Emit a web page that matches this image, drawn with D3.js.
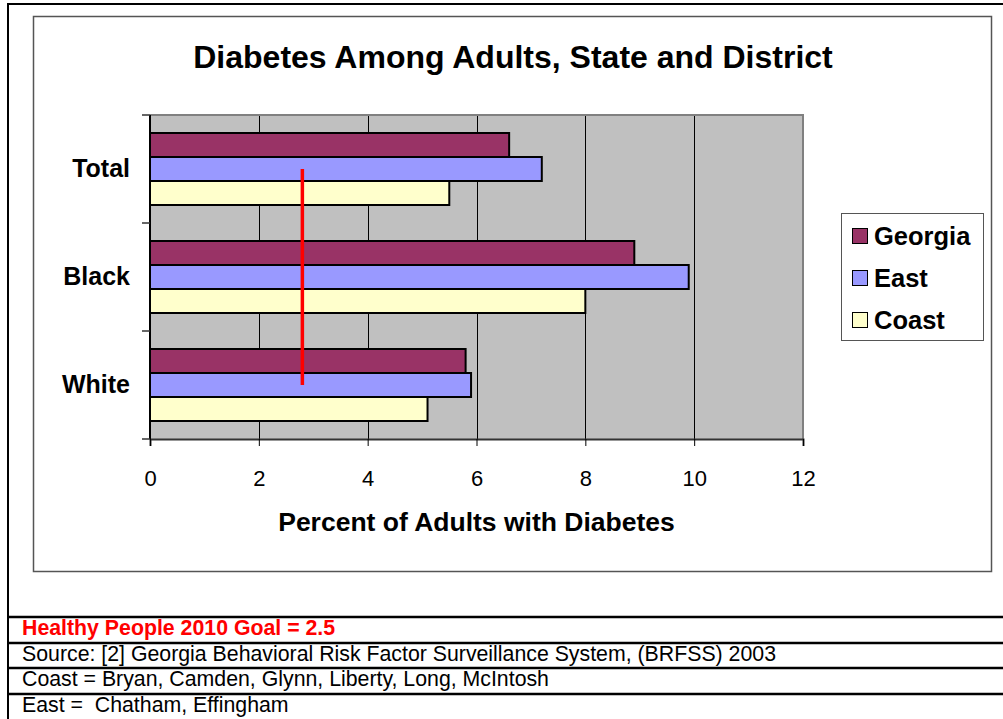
<!DOCTYPE html>
<html>
<head>
<meta charset="utf-8">
<script src="https://cdn.jsdelivr.net/npm/d3@7"></script>
<style>
  html, body { margin: 0; padding: 0; background: #fff; }
  svg { display: block; font-family: Arial, "Liberation Sans", sans-serif; }
</style>
</head>
<body>
<div id="chart"></div>
<script>
// chart data
const categories = ['Total', 'Black', 'White']
const seriesNames = ['Georgia', 'East', 'Coast']
const georgia = [6.6, 8.9, 5.8]
const east = [7.2, 9.9, 5.9]
const coast = [5.5, 8.0, 5.1]
const xTicks = [0, 2, 4, 6, 8, 10, 12]
const goalMark = 2.8
const footNotes = [
  'Healthy People 2010 Goal = 2.5',
  'Source: [2] Georgia Behavioral Risk Factor Surveillance System, (BRFSS) 2003',
  'Coast = Bryan, Camden, Glynn, Liberty, Long, McIntosh',
  'East =  Chatham, Effingham'
]

const colors = ['#993366', '#9999ff', '#ffffcc']
const seriesValues = [georgia, east, coast]

const W = 1003
const H = 719
const plot = { left: 150, right: 803, top: 115, bottom: 439 }

const svg = d3.select('#chart')
  .append('svg')
  .attr('width', W)
  .attr('height', H)

// outer frame
svg.append('rect')
  .attr('x', 8).attr('y', 4)
  .attr('width', W + 10).attr('height', H + 10)
  .attr('fill', 'none')
  .attr('stroke', '#000')
  .attr('stroke-width', 2)

// chart box
svg.append('rect')
  .attr('x', 33.5).attr('y', 16.5)
  .attr('width', 958).attr('height', 555)
  .attr('fill', 'none')
  .attr('stroke', '#555')
  .attr('stroke-width', 1.5)

const x = d3.scaleLinear().domain([0, 12]).range([plot.left, plot.right])
const y0 = d3.scaleBand()
  .domain(categories)
  .range([plot.top, plot.bottom])
  .paddingInner(1 / 3)
  .paddingOuter(1 / 6)
const y1 = d3.scaleBand()
  .domain(seriesNames)
  .range([0, y0.bandwidth()])

// plot area
svg.append('rect')
  .attr('x', plot.left).attr('y', plot.top)
  .attr('width', plot.right - plot.left)
  .attr('height', plot.bottom - plot.top)
  .attr('fill', '#c0c0c0')

// gridlines
svg.append('g')
  .selectAll('line')
  .data(xTicks.slice(1, -1))
  .join('line')
  .attr('x1', d => Math.round(x(d)) + 0.5)
  .attr('x2', d => Math.round(x(d)) + 0.5)
  .attr('y1', plot.top)
  .attr('y2', plot.bottom)
  .attr('stroke', '#000')
  .attr('stroke-width', 1)

// plot border (top / right)
svg.append('path')
  .attr('d', `M${plot.left},${plot.top} H${plot.right} V${plot.bottom}`)
  .attr('fill', 'none')
  .attr('stroke', '#808080')
  .attr('stroke-width', 2)

// bars
const rows = []
categories.forEach((c, i) => {
  seriesNames.forEach((s, j) => {
    rows.push({ cat: c, series: s, value: seriesValues[j][i], color: colors[j] })
  })
})

svg.append('g')
  .selectAll('rect')
  .data(rows)
  .join('rect')
  .attr('x', x(0))
  .attr('y', d => y0(d.cat) + y1(d.series))
  .attr('width', d => x(d.value) - x(0))
  .attr('height', y1.bandwidth())
  .attr('fill', d => d.color)
  .attr('stroke', '#000')
  .attr('stroke-width', 2)

// x axis
const xAxis = svg.append('g')
  .attr('transform', `translate(0,${plot.bottom})`)
  .call(d3.axisBottom(x).tickValues(xTicks).tickSize(7).tickPadding(24))
xAxis.select('.domain').attr('stroke', '#333').attr('stroke-width', 2)
xAxis.selectAll('.tick line').attr('stroke', '#000')
xAxis.selectAll('.tick text')
  .attr('font-size', 22)
  .attr('font-family', 'Arial, "Liberation Sans", sans-serif')
  .attr('fill', '#000')

// y axis
const yAxis = svg.append('g')
  .attr('transform', `translate(${plot.left},0)`)
  .call(d3.axisLeft(y0).tickSize(0).tickPadding(20))
yAxis.select('.domain').remove()
yAxis.selectAll('.tick text')
  .attr('font-size', 25)
  .attr('font-weight', 'bold')
  .attr('font-family', 'Arial, "Liberation Sans", sans-serif')
  .attr('fill', '#000')

// left axis line and category separators
svg.append('line')
  .attr('x1', plot.left).attr('x2', plot.left)
  .attr('y1', plot.top).attr('y2', plot.bottom)
  .attr('stroke', '#000').attr('stroke-width', 2)
const sepY = categories.map(c => y0(c) - y0.step() * (1 / 6)).concat([plot.bottom])
svg.append('g')
  .selectAll('line')
  .data(sepY)
  .join('line')
  .attr('x1', plot.left - 8).attr('x2', plot.left)
  .attr('y1', d => d).attr('y2', d => d)
  .attr('stroke', '#333').attr('stroke-width', 1.5)

// goal marker
svg.append('line')
  .attr('x1', x(goalMark)).attr('x2', x(goalMark))
  .attr('y1', y0('Total') + y1('East') + y1.bandwidth() / 2)
  .attr('y2', y0('White') + y1('East') + y1.bandwidth() / 2)
  .attr('stroke', '#ff0000')
  .attr('stroke-width', 3.5)

// title
svg.append('text')
  .attr('x', 513).attr('y', 68)
  .attr('text-anchor', 'middle')
  .attr('font-size', 32)
  .attr('font-weight', 'bold')
  .text('Diabetes Among Adults, State and District')

// x axis title
svg.append('text')
  .attr('x', (plot.left + plot.right) / 2).attr('y', 531)
  .attr('text-anchor', 'middle')
  .attr('font-size', 26.5)
  .attr('font-weight', 'bold')
  .text('Percent of Adults with Diabetes')

// legend
const legend = svg.append('g').attr('transform', 'translate(841,213)')
legend.append('rect')
  .attr('x', 0.5).attr('y', 0.5)
  .attr('width', 142).attr('height', 127)
  .attr('fill', '#fff')
  .attr('stroke', '#555')
  .attr('stroke-width', 1)
const items = legend.selectAll('g.item')
  .data(seriesNames)
  .join('g')
  .attr('class', 'item')
  .attr('transform', (d, i) => `translate(0,${23 + i * 42})`)
items.append('rect')
  .attr('x', 11.5).attr('y', -7.5)
  .attr('width', 15).attr('height', 15)
  .attr('fill', (d, i) => colors[i])
  .attr('stroke', '#000')
  .attr('stroke-width', 1)
items.append('text')
  .attr('x', 33).attr('y', 9)
  .attr('font-size', 25.5)
  .attr('font-weight', 'bold')
  .text(d => d)

// footnote table
const footLines = [617, 643, 668, 694]
svg.append('g')
  .selectAll('line')
  .data(footLines)
  .join('line')
  .attr('x1', 8).attr('x2', W)
  .attr('y1', d => d).attr('y2', d => d)
  .attr('stroke', '#000')
  .attr('stroke-width', 2.5)
svg.append('g')
  .selectAll('text')
  .data(footNotes)
  .join('text')
  .attr('x', 22)
  .attr('y', (d, i) => footLines[i] + 18)
  .attr('font-size', 21.3)
  .attr('font-weight', (d, i) => i === 0 ? 'bold' : 'normal')
  .attr('fill', (d, i) => i === 0 ? '#ff0000' : '#000')
  .style('white-space', 'pre')
  .text(d => d)
</script>
</body>
</html>
